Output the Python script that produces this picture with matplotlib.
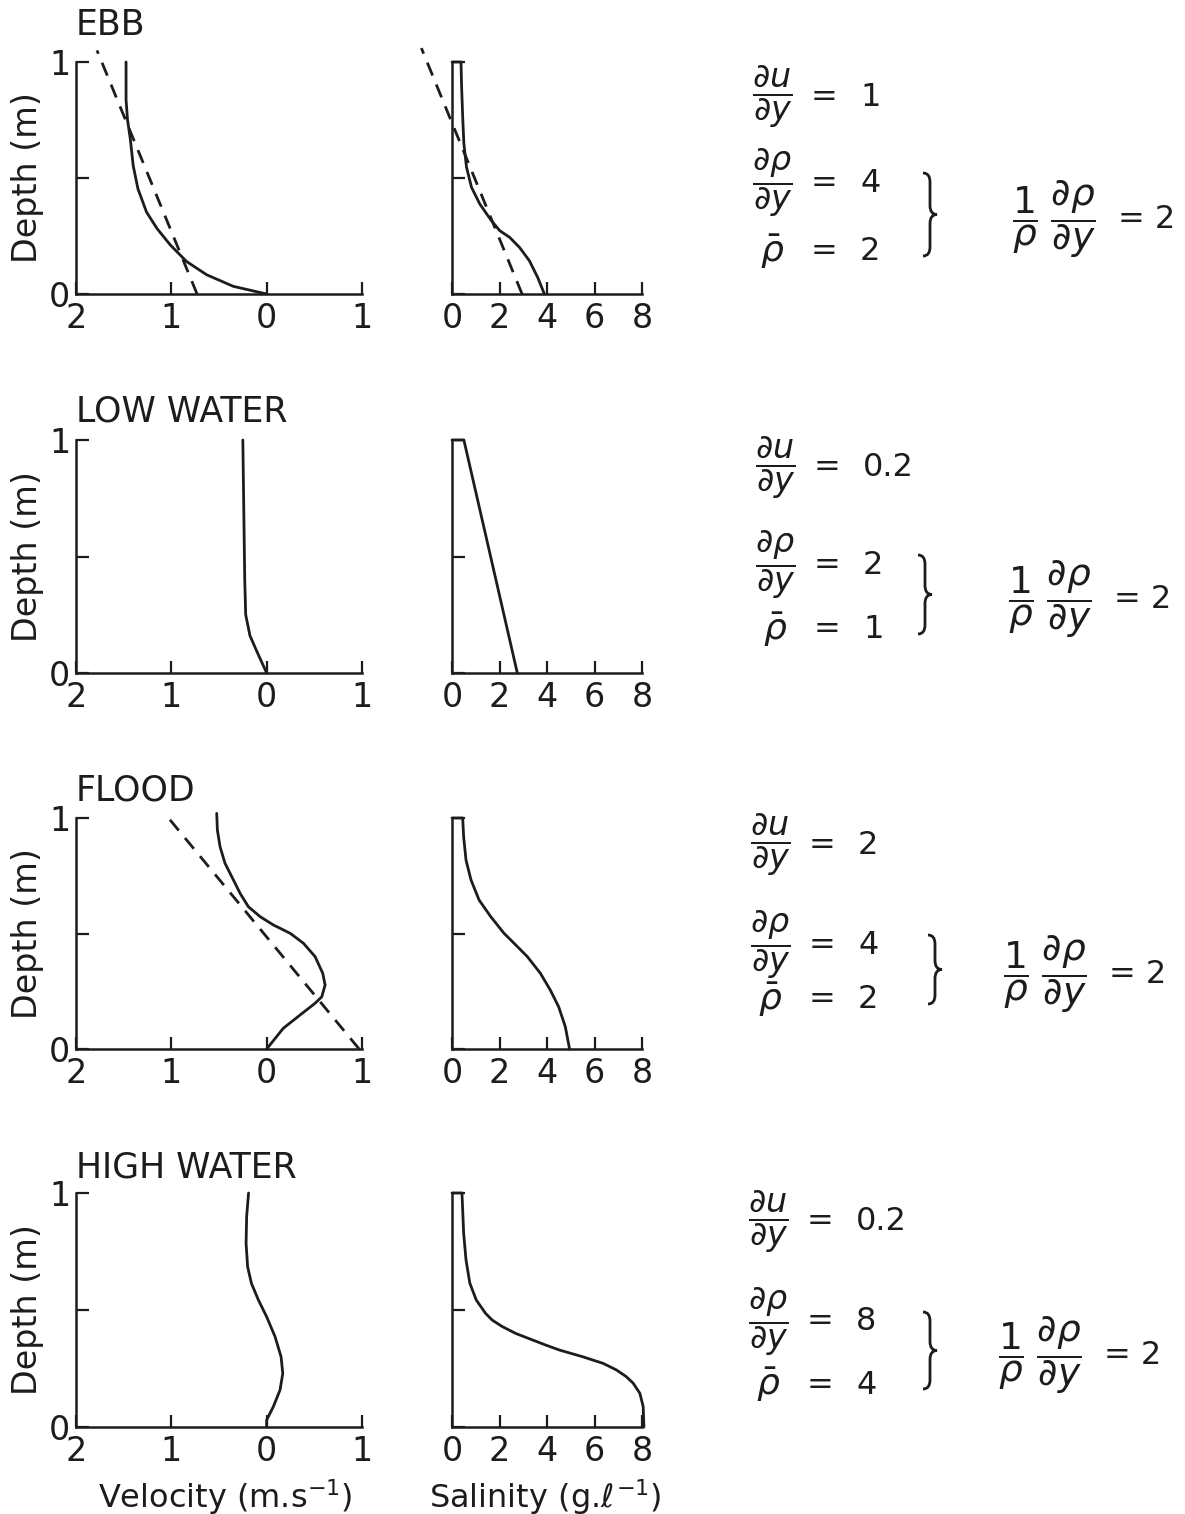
import numpy as np
import matplotlib.pyplot as plt
from matplotlib.path import Path
from matplotlib.patches import PathPatch

plt.rcParams["font.family"] = ["DejaVu Sans"]
plt.rcParams["mathtext.fontset"] = "dejavusans"

W, H = 1185, 1514
INK = "#1c1c1c"

TITLES = ["EBB", "LOW WATER", "FLOOD", "HIGH WATER"]

# velocity profiles: depth above bed (m) and velocity (m/s, ebb negative)
EBB_DEPTH = [1.0, 0.838, 0.752, 0.667, 0.553, 0.453, 0.353, 0.282, 0.211, 0.140, 0.083, 0.033, 0.0]
EBB_VEL = [-1.475, -1.475, -1.46, -1.43, -1.40, -1.35, -1.26, -1.15, -1.01, -0.84, -0.63, -0.35, 0.0]
LOW_DEPTH = [1.0, 0.7, 0.4, 0.25, 0.16, 0.09, 0.0]
LOW_VEL = [-0.25, -0.24, -0.23, -0.22, -0.175, -0.10, 0.0]
FLOOD_DEPTH = [1.02, 0.948, 0.876, 0.804, 0.732, 0.674, 0.616, 0.573, 0.537, 0.501,
               0.458, 0.400, 0.328, 0.277, 0.226, 0.198, 0.147, 0.090, 0.0]
FLOOD_VEL = [-0.524, -0.517, -0.489, -0.437, -0.349, -0.279, -0.192, -0.069, 0.070, 0.246,
             0.385, 0.508, 0.588, 0.613, 0.578, 0.508, 0.350, 0.175, 0.0]
HIGH_DEPTH = [1.0, 0.899, 0.785, 0.685, 0.614, 0.543, 0.471, 0.386, 0.300, 0.229,
              0.158, 0.087, 0.030, 0.0]
HIGH_VEL = [-0.19, -0.21, -0.216, -0.20, -0.16, -0.087, 0.0, 0.088, 0.151, 0.169,
            0.14, 0.07, 0.0, 0.0]

# salinity profiles (g/l)
EBB_SDEPTH = [1.0, 1.0, 0.908, 0.763, 0.648, 0.547, 0.460, 0.388, 0.316, 0.273,
              0.244, 0.200, 0.143, 0.071, 0.0]
EBB_SAL = [0.0, 0.38, 0.40, 0.45, 0.50, 0.61, 0.82, 1.17, 1.66, 2.01,
           2.43, 2.85, 3.26, 3.61, 3.89]
LOW_SDEPTH = [1.0, 1.0, 0.0]
LOW_SAL = [0.0, 0.5, 2.75]
FLOOD_SDEPTH = [1.0, 1.0, 0.919, 0.818, 0.732, 0.645, 0.573, 0.501, 0.458, 0.400,
                0.328, 0.255, 0.183, 0.097, 0.0]
FLOOD_SAL = [0.0, 0.45, 0.49, 0.59, 0.80, 1.14, 1.63, 2.19, 2.61, 3.17,
             3.72, 4.14, 4.49, 4.77, 4.95]
HIGH_SDEPTH = [1.0, 1.0, 0.829, 0.714, 0.615, 0.543, 0.486, 0.457, 0.429, 0.400,
               0.372, 0.350, 0.329, 0.300, 0.272, 0.244, 0.215, 0.187, 0.144,
               0.087, 0.0]
HIGH_SAL = [0.0, 0.42, 0.49, 0.59, 0.75, 1.02, 1.41, 1.69, 2.12, 2.68,
            3.39, 3.95, 4.52, 5.51, 6.36, 6.92, 7.34, 7.63, 7.91,
            8.05, 8.08]

VEL_PROFILES = [(EBB_VEL, EBB_DEPTH), (LOW_VEL, LOW_DEPTH),
                (FLOOD_VEL, FLOOD_DEPTH), (HIGH_VEL, HIGH_DEPTH)]
SAL_PROFILES = [(EBB_SAL, EBB_SDEPTH), (LOW_SAL, LOW_SDEPTH),
                (FLOOD_SAL, FLOOD_SDEPTH), (HIGH_SAL, HIGH_SDEPTH)]

# gradients quoted beside each pair of profiles
DUDY = [1, 0.2, 2, 0.2]
DRHODY = [4, 2, 4, 8]
RHOBAR = [2, 1, 2, 4]
RATIO = [d / r for d, r in zip(DRHODY, RHOBAR)]

# linear fits: value at the bed, top depth of the dashed line
EBB_VEL_BED, EBB_VEL_TOP = -0.73, 1.05
FLOOD_VEL_BED, FLOOD_VEL_TOP = 0.97, 1.0
EBB_SAL_BED, EBB_SAL_TOP = 2.95, 1.06

VEL_TICKS = [-2, -1, 0, 1]
VEL_LABELS = ["2", "1", "0", "1"]
SAL_TICKS = [0, 2, 4, 6, 8]
SAL_LABELS = ["0", "2", "4", "6", "8"]

# row geometry in pixels (top of depth axis, bottom of depth axis)
ROW_TOP = [62, 440, 818, 1193]
ROW_BOT = [294, 673, 1049, 1427]
TITLE_Y = [35, 422, 800, 1178]


def rect(x0, x1, yt, yb):
    return [x0 / W, 1 - yb / H, (x1 - x0) / W, (yb - yt) / H]


def ftext(x, y, s, **kw):
    kw.setdefault("color", INK)
    fig.text(x / W, 1 - y / H, s, **kw)


def style(ax, xticks, xlabels, ylabels):
    for side in ["top", "right"]:
        ax.spines[side].set_visible(False)
    for side in ["left", "bottom"]:
        ax.spines[side].set_linewidth(1.8)
        ax.spines[side].set_color(INK)
    ax.tick_params(direction="in", length=9, width=1.6, colors=INK,
                   labelsize=24, pad=6)
    ax.tick_params(axis="y", pad=4)
    ax.set_xticks(xticks, xlabels)
    ax.set_yticks([0, 0.5, 1], ylabels)
    ax.set_ylim(0, 1)
    ax.patch.set_alpha(0)


def brace(cx, yt, yb):
    ym = (yt + yb) / 2
    x0, xt = cx - 7, cx + 7
    pts = [(x0, yt), (cx, yt), (cx, yt + 9), (cx, ym - 9), (cx, ym), (xt, ym),
           (cx, ym), (cx, ym + 9), (cx, yb - 9), (cx, yb), (x0, yb)]
    codes = [Path.MOVETO, Path.CURVE3, Path.CURVE3, Path.LINETO, Path.CURVE3,
             Path.CURVE3, Path.CURVE3, Path.CURVE3, Path.LINETO, Path.CURVE3,
             Path.CURVE3]
    verts = [(x / W, 1 - y / H) for x, y in pts]
    fig.patches.append(PathPatch(Path(verts, codes), fill=False, lw=2.0,
                                 edgecolor=INK, transform=fig.transFigure))


fig = plt.figure(figsize=(W / 100, H / 100), dpi=100)
fig.patch.set_facecolor("white")

for i in range(4):
    yt, yb = ROW_TOP[i], ROW_BOT[i]

    axv = fig.add_axes(rect(76, 362, yt, yb))
    style(axv, VEL_TICKS, VEL_LABELS, ["0", "", "1"])
    axv.set_xlim(-2, 1)
    u, d = VEL_PROFILES[i]
    axv.plot(u, d, color=INK, lw=2.0, clip_on=False, solid_capstyle="round",
             solid_joinstyle="round")

    axs = fig.add_axes(rect(452, 642, yt, yb))
    style(axs, SAL_TICKS, SAL_LABELS, ["", "", ""])
    axs.set_xlim(0, 8)
    s, d = SAL_PROFILES[i]
    axs.plot(s, d, color=INK, lw=2.0, clip_on=False, solid_capstyle="round",
             solid_joinstyle="round")

    if i == 0:
        dd = np.array([0.0, EBB_VEL_TOP])
        axv.plot(EBB_VEL_BED - DUDY[0] * dd, dd, color=INK, lw=2.0,
                 ls=(0, (5, 3.5)), clip_on=False)
        dd = np.array([0.0, EBB_SAL_TOP])
        axs.plot(EBB_SAL_BED - DRHODY[0] * dd, dd, color=INK, lw=2.0,
                 ls=(0, (5, 3.5)), clip_on=False)
    if i == 2:
        dd = np.array([0.0, FLOOD_VEL_TOP])
        axv.plot(FLOOD_VEL_BED - DUDY[2] * dd, dd, color=INK, lw=2.0,
                 ls=(0, (5, 3.5)), clip_on=False)

    ftext(76, TITLE_Y[i], TITLES[i], fontsize=25, va="baseline")
    ftext(28, (yt + yb) / 2, "Depth (m)", fontsize=24, rotation=90,
          ha="center", va="center")

# gradient summaries to the right of each row
EQ_X = [772, 775, 770, 768]
EQ_Y = [(97, 183, 252), (468, 565, 630), (845, 945, 1000), (1222, 1322, 1385)]
RIGHT_X = [1012, 1008, 1003, 998]
BRACE_X = [930, 925, 935, 930]

for i in range(4):
    fx = EQ_X[i]
    y1, y2, y3 = EQ_Y[i]
    ftext(fx, y1, r"$\dfrac{\partial u}{\partial y}$", fontsize=24,
          ha="center", va="center")
    ftext(fx, y2, r"$\dfrac{\partial \rho}{\partial y}$", fontsize=24,
          ha="center", va="center")
    ftext(fx, y3, r"$\bar{\rho}$", fontsize=26, ha="center", va="center")
    for yy, val in zip((y1, y2, y3), (DUDY[i], DRHODY[i], RHOBAR[i])):
        ftext(fx + 52, yy, "=", fontsize=23, ha="center", va="center")
        ftext(fx + 88, yy, f"{val:g}", fontsize=23, ha="left", va="center")
    brace(BRACE_X[i], y2 - 10, y3 + 4)
    ym = (y2 + y3) / 2 + 2
    ftext(RIGHT_X[i], ym,
          r"$\dfrac{1}{\rho}\;\dfrac{\partial \rho}{\partial y}$",
          fontsize=27, ha="left", va="center")
    ftext(RIGHT_X[i] + 106, ym, f"= {RATIO[i]:g}", fontsize=23,
          ha="left", va="center")

ftext(225, 1497, r"Velocity (m.s$^{-1}$)", fontsize=23, ha="center",
      va="center")
ftext(545, 1497, r"Salinity (g.$\ell^{-1}$)", fontsize=23, ha="center",
      va="center")

fig.savefig("out.png", dpi=100, facecolor="white")
